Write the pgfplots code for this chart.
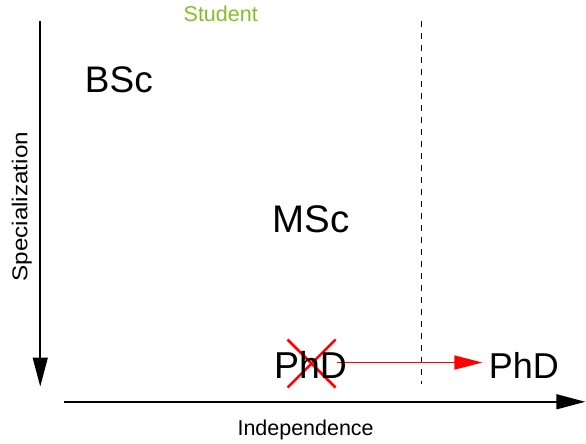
\documentclass[border=0pt]{standalone}
\usepackage{pgfplots}
\pgfplotsset{compat=1.18}
\usepackage{fontspec}
\setmainfont{Liberation Sans}
\usetikzlibrary{arrows.meta}
\definecolor{stgreen}{RGB}{135,190,35}
\begin{document}
\begin{tikzpicture}
\path (0,0) rectangle (586pt,444pt);
\begin{axis}[
  at={(0,0)}, anchor=south west,
  width=586pt, height=444pt, scale only axis,
  xmin=0, xmax=586, ymin=0, ymax=444, y dir=reverse,
  hide axis, clip=false,
]
% vertical axis arrow
\addplot[black, line width=1.5pt, -{Triangle[length=29pt,width=15pt]}] coordinates {(40.3,21) (40.3,387)};
% horizontal axis arrow
\addplot[black, line width=1.5pt, -{Triangle[length=29pt,width=15pt]}] coordinates {(64,402.3) (586,402.3)};
% dashed line
\addplot[black, line width=1pt, dash pattern=on 6.5pt off 5.5pt] coordinates {(421.7,21) (421.7,384)};
% red cross
\addplot[red, line width=2.6pt] coordinates {(288,340) (336,388)};
\addplot[red, line width=2.6pt] coordinates {(288,388) (336,340)};
% red arrow
\addplot[red, line width=1.4pt, -{Triangle[length=28pt,width=14pt]}] coordinates {(337,363) (483,363)};
% labels
\node[anchor=base, font=\fontsize{21.5}{24}\selectfont, text=stgreen, inner sep=0pt] at (axis cs:221,22) {Student};
\node[anchor=base, font=\fontsize{37}{42}\selectfont, inner sep=0pt] at (axis cs:119,93) {BSc};
\node[anchor=base, font=\fontsize{38.5}{42}\selectfont, inner sep=0pt] at (axis cs:311.5,233) {MSc};
\node[anchor=base, font=\fontsize{37.5}{42}\selectfont, inner sep=0pt] at (axis cs:311,379) {PhD};
\node[anchor=base, font=\fontsize{36}{42}\selectfont, inner sep=0pt] at (axis cs:524.5,379) {PhD};
\node[anchor=base, font=\fontsize{21.5}{24}\selectfont, inner sep=0pt] at (axis cs:306,436) {Independence};
\node[anchor=base, rotate=90, font=\fontsize{21.5}{24}\selectfont, inner sep=0pt, xscale=1.13] at (axis cs:27.3,207) {Specialization};
\end{axis}
\end{tikzpicture}
\end{document}
